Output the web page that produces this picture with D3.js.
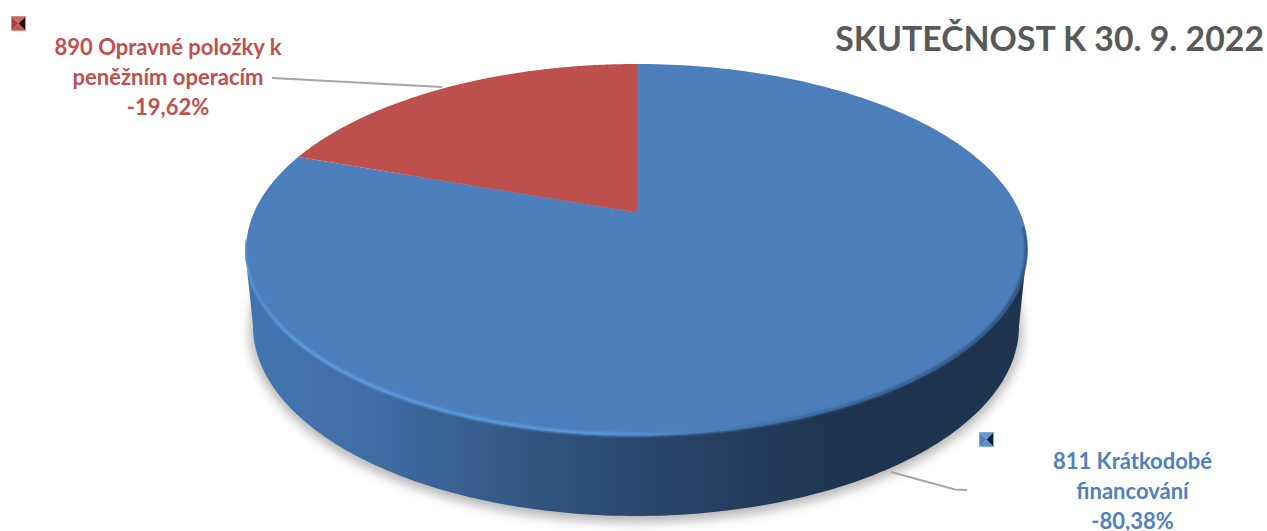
<!DOCTYPE html>
<html><head><meta charset="utf-8">
<script src="https://cdn.jsdelivr.net/npm/d3@7/dist/d3.min.js"></script>
<style>html,body{margin:0;padding:0;background:#fff;overflow:hidden}svg{display:block}text{font-family:Lato,"Open Sans",sans-serif;font-weight:700}</style>
</head><body><div id="c"></div>
<script>
const titleText = "SKUTEČNOST K 30. 9. 2022";
const categories = ["811 Krátkodobé financování", "890 Opravné položky k peněžním operacím"];
const values = [-80.38, -19.62];
const colors = ["#4c7ebb", "#bd4f4c"];
const labelLines = [["811 Krátkodobé", "financování"], ["890 Opravné položky k", "peněžním operacím"]];

const W = 1267, H = 531;
const svg = d3.select("#c").append("svg").attr("width", W).attr("height", H);
const defs = svg.append("defs");

// perspective mapping of the pie disc on to the page
const apex = {x: 637, y: 212.5}, A = 178.2, B = 383, k = 0.2;
const proj = a => { const u = Math.sin(a), v = Math.cos(a), w = 1 + k * v;
  return [apex.x + B * u / w, apex.y - A * v / w]; };
const topE = {cx: 636, cy: 249.5, rx: 391, ry: 185.5};
const botE = {cx: 636, cy: 326, rx: 383, ry: 190};
const onE = (e, p) => [e.cx + e.rx * Math.cos(p), e.cy + e.ry * Math.sin(p)];
const line = d3.line();
const samples = (a, b, n = 160) => { const s = d3.scaleLinear().domain([0, n]).range([a, b]); return d3.range(n + 1).map(s); };

const sidePts = samples(0, Math.PI).map(p => onE(topE, p)).concat(samples(Math.PI, 0).map(p => onE(botE, p)));
const sidePath = line(sidePts) + "Z";

// gradients and filters
const lg = defs.append("linearGradient").attr("id", "side").attr("gradientUnits", "userSpaceOnUse")
  .attr("x1", 245).attr("x2", 1030).attr("y1", 0).attr("y2", 0);
[[0, "#4374b0"], [.15, "#406ea6"], [.3, "#365d8c"], [.45, "#2c4d74"], [.6, "#263f60"], [.78, "#1d334e"], [1, "#1d334e"]]
  .forEach(s => lg.append("stop").attr("offset", s[0]).attr("stop-color", s[1]));
const rg = defs.append("linearGradient").attr("id", "rim").attr("gradientUnits", "userSpaceOnUse")
  .attr("x1", 245).attr("x2", 1030).attr("y1", 0).attr("y2", 0);
[[0, "#4f87c8"], [.06, "#5c9ae0"], [.45, "#5c9ae0"], [.58, "#4c7ebb"], [.7, "#3f6da4"], [1, "#2f5079"]]
  .forEach(s => rg.append("stop").attr("offset", s[0]).attr("stop-color", s[1]));
defs.append("filter").attr("id", "shadow").attr("x", "-10%").attr("y", "-10%").attr("width", "120%").attr("height", "120%")
  .append("feGaussianBlur").attr("stdDeviation", 6);
defs.append("filter").attr("id", "soft").attr("x", "-5%").attr("y", "-5%").attr("width", "110%").attr("height", "110%")
  .append("feGaussianBlur").attr("stdDeviation", 0.9);
defs.append("clipPath").attr("id", "body").append("path")
  .attr("d", line(samples(0, 2 * Math.PI, 320).map(p => onE(topE, p))) + "Z " + sidePath);

// shadow
svg.append("ellipse").attr("cx", botE.cx).attr("cy", botE.cy + 3).attr("rx", botE.rx + 3).attr("ry", botE.ry + 3)
  .attr("fill", "#000").attr("opacity", .3).attr("filter", "url(#shadow)");

// side wall
svg.append("path").attr("d", sidePath).attr("fill", "url(#side)");

// top face slices
const arcs = d3.pie().sort(null).value(d => Math.abs(d))(values);
svg.append("g").selectAll("path").data(arcs).join("path")
  .attr("d", d => line([[apex.x, apex.y]].concat(samples(d.startAngle, d.endAngle, 240).map(proj))) + "Z")
  .attr("fill", (d, i) => colors[i]);

// bevel along the front edge
svg.append("g").attr("clip-path", "url(#body)").append("path")
  .attr("d", line(samples(-0.12, Math.PI + 0.05, 200).map(p => onE({cx: topE.cx, cy: topE.cy - 0.5, rx: topE.rx - 0.5, ry: topE.ry}, p))))
  .attr("fill", "none").attr("stroke", "url(#rim)").attr("stroke-width", 3.5).attr("filter", "url(#soft)");

// leader lines
const leaders = [[[891, 472], [955, 489.5], [967, 490]], [[272, 78], [442, 87]]];
svg.append("g").selectAll("path").data(leaders).join("path").attr("d", d => line(d))
  .attr("fill", "none").attr("stroke", "#a6a6a6").attr("stroke-width", 2);

// legend keys
const keyPos = [[979, 432], [11, 16]];
const keyTones = [["#6a96cc", "#5d8dc6", "#4f81bd", "#0f1f30"], ["#c46a68", "#b85c5a", "#a64442", "#2c1010"]];
const keyEdge = ["#86a8d4", "#d68a88"];
keyPos.forEach((p, i) => {
  const s = 15, g = svg.append("g").attr("transform", `translate(${p[0]},${p[1]})`), m = s / 2;
  const corners = [[0, 0], [s, 0], [s, s], [0, s]];
  [[0, 1, 0], [2, 3, 1], [3, 0, 2], [1, 2, 3]].forEach(t =>
    g.append("polygon").attr("points", [corners[t[0]], corners[t[1]], [m, m]].join(" ")).attr("fill", keyTones[i][t[2]]));
  g.append("rect").attr("x", .5).attr("y", .5).attr("width", s - 1).attr("height", s - 1)
    .attr("fill", "none").attr("stroke", keyEdge[i]);
});

// title
svg.append("text").attr("x", 1264).attr("y", 51).attr("text-anchor", "end").attr("font-size", 33.8)
  .attr("fill", "#595959").text(titleText);

// data labels
const pct = v => d3.format(".2f")(v).replace("−", "-").replace(".", ",") + "%";
const labelPos = [{x: 1132.5, y: 469}, {x: 168, y: 55}];
labelPos.forEach((p, i) => {
  const t = svg.append("text").attr("text-anchor", "middle").attr("font-size", 22).attr("fill", i ? "#c0504d" : "#4f81bd");
  labelLines[i].concat([pct(values[i])]).forEach((s, j) =>
    t.append("tspan").attr("x", p.x).attr("y", p.y + j * 30).text(s));
});
</script></body></html>
